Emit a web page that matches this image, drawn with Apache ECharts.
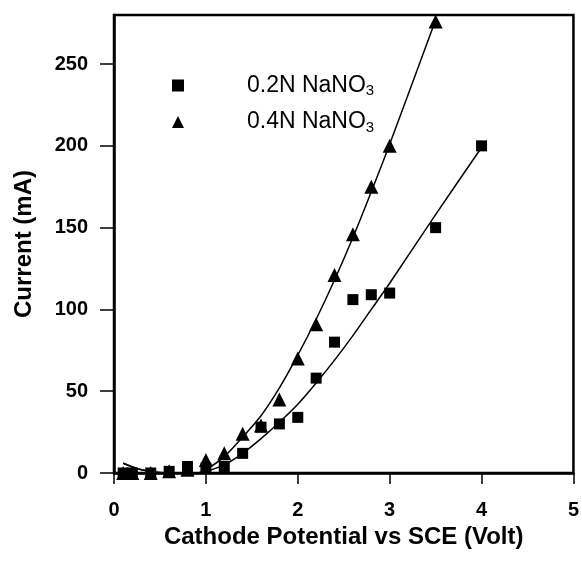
<!DOCTYPE html>
<html>
<head>
<meta charset="utf-8">
<script src="https://cdn.jsdelivr.net/npm/echarts@6/dist/echarts.min.js"></script>
<style>
  html, body { margin: 0; padding: 0; background: #fff; }
  #chart { width: 582px; height: 564px; }
</style>
</head>
<body>
<div id="chart"></div>
<script>
// measured points (Volt, mA)
const potA = [0.1, 0.2, 0.4, 0.6, 0.8, 1.0, 1.2, 1.4, 1.6, 1.8, 2.0, 2.2, 2.4, 2.6, 2.8, 3.0, 3.5, 4.0];
const curA = [0, 0, 0, 1, 4, 3, 4, 12, 28, 30, 34, 58, 80, 106, 109, 110, 150, 200];

const potB = [0.1, 0.2, 0.4, 0.6, 0.8, 1.0, 1.2, 1.4, 1.6, 1.8, 2.0, 2.2, 2.4, 2.6, 2.8, 3.0, 3.5];
const curB = [0, 0, 0, 1, 2, 8, 12, 24, 29, 45, 70, 91, 121, 146, 175, 200, 276];

// fitted curves
const fitXA = [0.1, 0.3, 0.6, 0.9, 1.0, 1.2, 1.4, 1.6, 1.8, 2.0, 2.2, 2.4, 2.6, 2.8, 3.0, 3.5, 4.0];
const fitYA = [6, 2, 0, 0, 1, 5, 12, 21, 31, 42, 55, 69, 84, 100, 116, 158, 199];
const fitXB = [0.1, 0.3, 0.6, 0.9, 1.0, 1.2, 1.4, 1.6, 1.8, 2.0, 2.2, 2.4, 2.6, 2.8, 3.0, 3.5];
const fitYB = [6, 2, 0, 0, 2, 10, 22, 35, 52, 72, 94, 118, 144, 172, 201, 277];

const names = ['0.2N NaNO3', '0.4N NaNO3'];
const xTicks = [0, 1, 2, 3, 4, 5];
const yTicks = [0, 50, 100, 150, 200, 250];

const pairs = (xs, ys) => xs.map((x, i) => [x, ys[i]]);
const font = 'Liberation Sans, Arial, sans-serif';

const chart = echarts.init(document.getElementById('chart'));

const option = {
    animation: false,
    backgroundColor: '#fff',
    grid: {
        left: 114, right: 7, top: 15, bottom: 91,
        show: true, borderColor: '#000', borderWidth: 2.5
    },
    legend: {
        data: names,
        orient: 'vertical',
        left: 167, top: 69,
        itemWidth: 12, itemHeight: 12,
        itemGap: 12,
        selectedMode: false,
        formatter: n => n.replace('NaNO3', 'NaNO{sub|3}'),
        textStyle: {
            fontFamily: font, fontSize: 23, color: '#000',
            padding: [0, 0, 0, 58],
            rich: { sub: { fontFamily: font, fontSize: 15, color: '#000', padding: [11, 0, 0, 0] } }
        }
    },
    xAxis: {
        type: 'value',
        min: 0, max: 5, interval: 1,
        name: 'Cathode Potential vs SCE (Volt)',
        nameLocation: 'middle', nameGap: 39,
        nameTextStyle: { fontFamily: font, fontSize: 24, fontWeight: 'bold', color: '#000' },
        axisLine: { lineStyle: { color: '#000', width: 2.5 } },
        axisTick: { show: true, inside: false, length: 11, lineStyle: { color: '#000', width: 1.5 },
            customValues: xTicks },
        axisLabel: { fontFamily: font, fontSize: 20, fontWeight: 'bold', color: '#000', margin: 27,
            customValues: xTicks },
        splitLine: { show: false }
    },
    yAxis: {
        type: 'value',
        min: 0, max: 280, interval: 50,
        name: 'Current (mA)',
        nameLocation: 'middle', nameGap: 78,
        nameTextStyle: { fontFamily: font, fontSize: 24, fontWeight: 'bold', color: '#000' },
        axisLine: { lineStyle: { color: '#000', width: 2.5 } },
        axisTick: { show: true, inside: false, length: 14, lineStyle: { color: '#000', width: 1.5 },
            customValues: yTicks },
        axisLabel: { fontFamily: font, fontSize: 20, fontWeight: 'bold', color: '#000', margin: 26,
            customValues: yTicks },
        splitLine: { show: false }
    },
    series: [
        {
            name: names[0], type: 'scatter', symbol: 'rect', symbolSize: 11,
            itemStyle: { color: '#000', opacity: 1 }, data: pairs(potA, curA), z: 3
        },
        {
            name: names[1], type: 'scatter', symbol: 'triangle', symbolSize: 14,
            itemStyle: { color: '#000', opacity: 1 }, data: pairs(potB, curB), z: 3
        },
        {
            name: 'fitA', type: 'line', smooth: 0.3, showSymbol: false, silent: true,
            lineStyle: { color: '#000', width: 1.5 }, data: pairs(fitXA, fitYA)
        },
        {
            name: 'fitB', type: 'line', smooth: 0.3, showSymbol: false, silent: true,
            lineStyle: { color: '#000', width: 1.5 }, data: pairs(fitXB, fitYB)
        }
    ]
};
chart.setOption(option);
</script>
</body>
</html>
